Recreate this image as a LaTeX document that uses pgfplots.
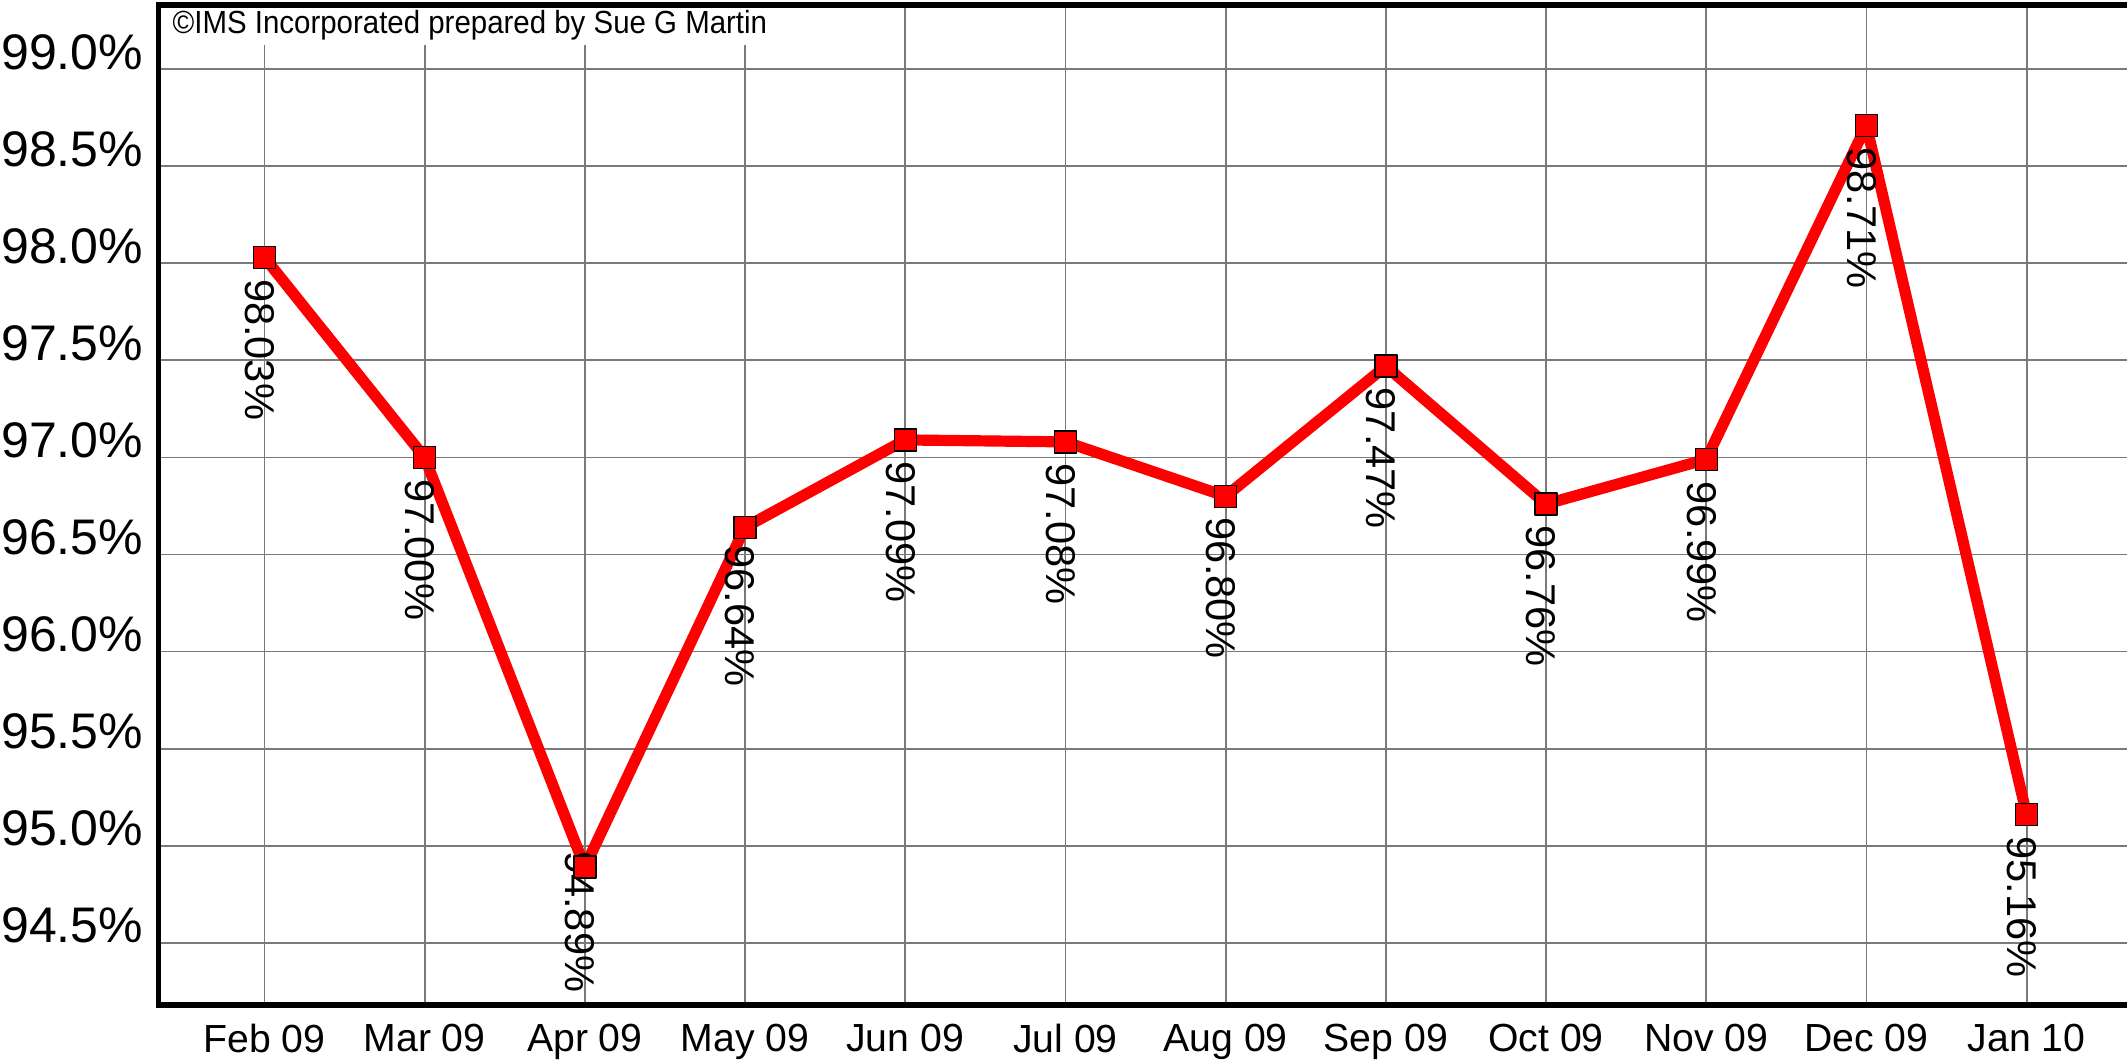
\documentclass[border=0pt]{standalone}
\usepackage{fontspec}
\setmainfont{Liberation Sans}
\newfontfamily\cfont{Liberation Sans}[FakeStretch=0.92]
\usepackage{pgfplots}
\usepackage{pgfplotstable}
\pgfplotsset{compat=1.18}
\pgfplotstableread{
x y off
0 98.03 5.2
1 97.00 5.2
2 94.89 -4.2
3 96.64 4.4
4 97.09 5.2
5 97.08 5.2
6 96.80 5.2
7 97.47 5.2
8 96.76 5.2
9 96.99 5.4
10 98.71 5.4
11 95.16 5.2
}\datatable
\begin{document}
\begin{tikzpicture}
\begin{axis}[name=ax, at={(39.675pt,13.5pt)}, anchor=south west,
  scale only axis, width=492.08pt, height=250pt,
  xmin=-0.66, xmax=11.627, ymin=94.18, ymax=99.33,
  xtick={0,1,2,3,4,5,6,7,8,9,10,11},
  xticklabels={Feb 09,Mar 09,Apr 09,May 09,Jun 09,Jul 09,Aug 09,Sep 09,Oct 09,Nov 09,Dec 09,Jan 10},
  ytick={94.5,95,95.5,96,96.5,97,97.5,98,98.5,99},
  yticklabels={94.5\%,95.0\%,95.5\%,96.0\%,96.5\%,97.0\%,97.5\%,98.0\%,98.5\%,99.0\%},
  grid=major, major grid style={draw=black!52, line width=0.45pt},
  major tick length=0pt,
  axis line style={draw=none},
  xticklabel style={font=\fontsize{9.8}{11}\selectfont, anchor=north, inner sep=0pt, yshift=-4.6pt},
  yticklabel style={font=\fontsize{12.5}{14}\selectfont, anchor=base east, inner sep=0pt, xshift=-3.7pt},
]
\addplot[draw=none, mark=none, point meta=y,
  visualization depends on={\thisrow{off}\as\myoff},
  nodes near coords={\pgfmathprintnumber[fixed,fixed zerofill,precision=2,assume math mode=true]{\pgfplotspointmeta}\%},
  nodes near coords style={xshift=-1.2pt, yshift=-\myoff pt, rotate=-90, anchor=west, inner sep=0pt, text=black, font=\fontsize{10.4}{12}\selectfont}]
  table[x=x,y=y]{\datatable};
\addplot[color=red, line width=2.8pt, line join=round, mark=square*, mark size=2.75pt,
  mark options={fill=red, draw=black, line width=0.35pt, solid}]
  table[x=x,y=y]{\datatable};
\end{axis}
\node[anchor=north west, fill=white, inner xsep=3.3pt, inner ysep=0pt, minimum height=9.75pt,
  font=\cfont\fontsize{8.0}{8.5}\selectfont] at (ax.north west) {©IMS Incorporated prepared by Sue G Martin};
\draw[line width=1.3pt] (ax.north east) -- (ax.north west) -- (ax.south west) -- (ax.south east);
\pgfresetboundingbox
\path[use as bounding box] (0,0) rectangle (531.75pt,264.75pt);
\end{tikzpicture}
\end{document}
